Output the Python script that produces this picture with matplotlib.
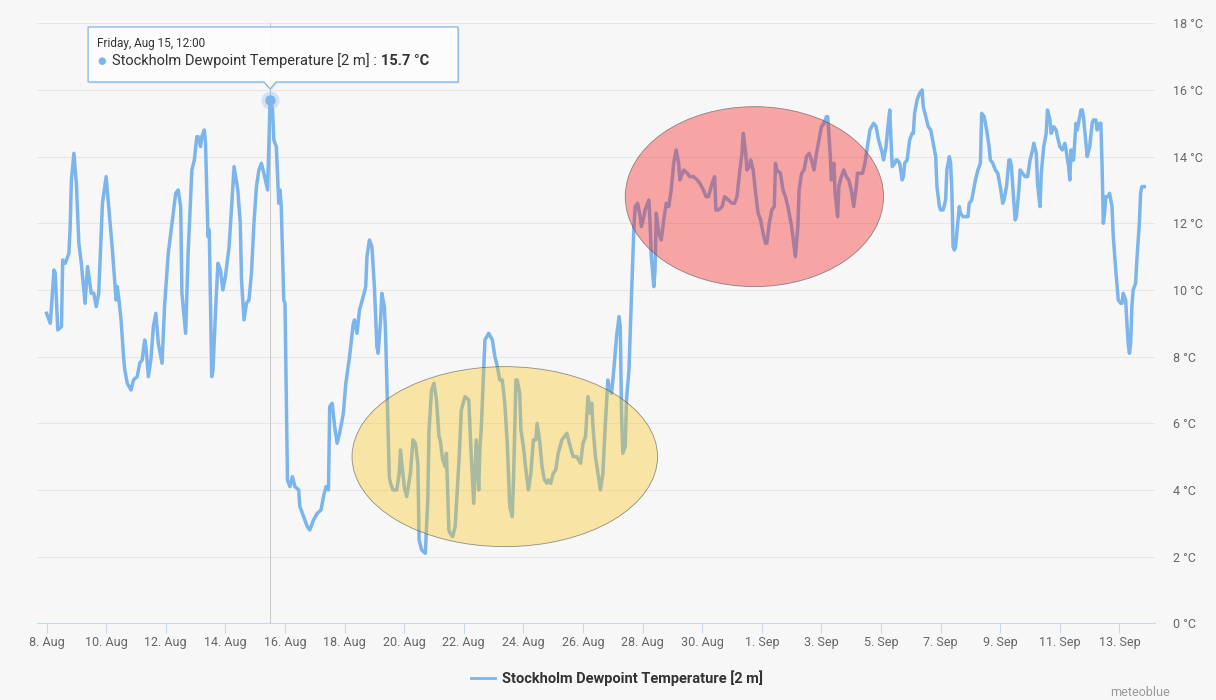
import matplotlib
matplotlib.use("Agg")
import matplotlib.pyplot as plt
import matplotlib.dates as mdates
from matplotlib.patches import Ellipse, Polygon
from matplotlib.lines import Line2D
from matplotlib.transforms import IdentityTransform
import numpy as np
import pandas as pd

# hours after 8 Aug 2025 00:00 -> dewpoint [degC]
hours_aug08 = [0, 3, 6, 7, 9, 12, 13, 15, 18, 19, 20, 22, 24, 26, 28, 31, 33, 36, 38, 40,
               42, 45, 48, 51, 53, 56, 57, 58, 60, 62, 63, 65, 68, 70, 73, 75, 77, 79, 80,
               82, 84, 86, 88, 90, 93, 95, 98, 100, 104, 106, 108, 109, 112, 114, 117, 119,
               121, 122, 124, 125, 127, 128, 130, 131, 133, 134, 136, 138, 140, 142]
dew_aug08 = [9.3, 9.0, 10.6, 10.5, 8.8, 8.9, 10.9, 10.8, 11.1, 11.9, 13.3, 14.1, 13.2, 11.4,
             10.8, 9.6, 10.7, 9.9, 9.9, 9.5, 9.9, 12.6, 13.4, 12.1, 11.2, 9.7, 10.1, 9.8, 9.1,
             8.0, 7.6, 7.2, 7.0, 7.3, 7.4, 7.8, 7.9, 8.5, 8.3, 7.4, 7.9, 8.9, 9.3, 8.4, 7.8,
             9.5, 11.1, 11.7, 12.9, 13.0, 12.5, 9.9, 8.7, 11.1, 13.6, 13.9, 14.6, 14.6, 14.3,
             14.6, 14.8, 14.4, 11.6, 11.8, 7.4, 7.6, 9.3, 10.8, 10.6, 10.0]

hours_aug14 = [144, 147, 149, 151, 154, 156, 157, 159, 161, 163, 165, 167, 169, 171, 173, 175,
               178, 179, 180, 182, 183, 185, 187, 188, 189, 191, 192, 194, 196, 198, 200, 203,
               204, 207, 210, 212, 215, 218, 221, 223, 225, 227, 228, 230, 232, 234, 236, 239,
               241, 244, 247, 248, 250, 252, 255, 257, 258, 260, 262, 264, 266, 267, 269, 270,
               272, 273, 274, 276, 277, 279, 282, 284]
dew_aug14 = [10.4, 11.3, 12.5, 13.7, 13.0, 12.0, 10.3, 9.1, 9.6, 9.7, 10.5, 12.0, 13.1, 13.6,
             13.8, 13.5, 13.0, 14.4, 15.7, 15.4, 14.5, 14.3, 12.6, 13.0, 12.5, 9.7, 9.6, 4.3,
             4.1, 4.4, 4.1, 4.0, 3.5, 3.2, 2.9, 2.8, 3.1, 3.3, 3.4, 3.8, 4.1, 4.0, 6.5, 6.6,
             5.9, 5.4, 5.7, 6.3, 7.2, 8.0, 9.0, 9.1, 8.7, 9.4, 9.8, 10.1, 11.0, 11.5, 11.3,
             10.1, 8.3, 8.1, 9.1, 9.9, 9.5, 8.7, 7.3, 4.4, 4.2, 4.0, 4.0, 4.5]

hours_aug19 = [285, 288, 290, 293, 295, 297, 299, 300, 302, 305, 307, 308, 310, 312, 314, 316,
               317, 319, 321, 322, 324, 325, 327, 329, 332, 334, 337, 340, 342, 344, 346, 348,
               349, 350, 353, 356, 359, 361, 363, 365, 367, 369, 371, 373, 375, 376, 378, 379,
               381, 382, 384, 386, 388, 390, 392, 394, 395, 397, 399, 401, 403, 404, 406, 408,
               410, 412, 415, 417, 419, 421, 424, 427, 430, 432, 434, 436, 438]
dew_aug19 = [5.2, 4.1, 3.8, 4.5, 5.5, 5.4, 4.8, 2.5, 2.2, 2.1, 3.7, 5.8, 7.0, 7.2, 6.7, 5.6,
             5.5, 4.9, 4.7, 5.1, 2.8, 2.7, 2.6, 2.9, 4.8, 6.4, 6.8, 6.7, 5.0, 3.6, 5.5, 4.0,
             5.3, 5.8, 8.5, 8.7, 8.5, 8.0, 7.7, 7.3, 7.3, 6.6, 5.4, 3.5, 3.2, 4.3, 7.3, 7.3,
             6.9, 5.8, 5.3, 4.6, 4.0, 4.5, 5.5, 5.5, 6.0, 5.5, 4.7, 4.3, 4.2, 4.3, 4.2, 4.5,
             4.6, 5.1, 5.5, 5.6, 5.7, 5.4, 5.0, 5.0, 4.8, 5.4, 5.6, 6.8, 6.3]

hours_aug26 = [439, 440, 442, 444, 446, 448, 450, 452, 453, 455, 457, 459, 461, 462, 463, 464,
               466, 467, 469, 471, 473, 474, 476, 478, 479, 481, 482, 485, 486, 487, 489, 490,
               491, 493, 495, 497, 499, 501, 503, 505, 507, 509, 510, 513, 516, 518, 521, 524,
               526, 529, 531, 533, 536, 538, 539, 541, 544, 546, 549, 552, 554, 556, 558, 560,
               561, 563, 564, 566, 567, 569, 571, 573]
dew_aug26 = [6.6, 5.9, 5.0, 4.5, 4.0, 4.5, 6.0, 7.3, 7.1, 6.9, 7.7, 8.6, 9.2, 8.9, 6.3, 5.1,
             5.3, 6.7, 7.6, 9.8, 11.9, 12.5, 12.6, 12.2, 11.9, 12.2, 12.4, 12.7, 12.0, 11.0,
             10.1, 10.6, 12.3, 11.7, 11.5, 12.1, 12.6, 12.5, 13.0, 13.8, 14.2, 13.8, 13.3,
             13.6, 13.5, 13.4, 13.4, 13.3, 13.2, 13.0, 12.8, 12.8, 13.2, 13.4, 12.4, 12.4,
             12.5, 12.8, 12.7, 12.6, 12.6, 12.8, 13.5, 14.1, 14.7, 14.1, 13.6, 13.7, 13.9,
             13.6, 12.9, 12.3]

hours_sep01 = [575, 577, 579, 580, 582, 584, 586, 587, 588, 591, 593, 595, 597, 600, 603, 605,
               606, 608, 610, 612, 614, 616, 618, 620, 622, 624, 626, 628, 629, 631, 632, 634,
               635, 637, 638, 640, 642, 644, 646, 648, 650, 652, 653, 655, 657, 659, 661, 663,
               666, 668, 670, 673, 674, 676, 677, 679, 680, 681, 683, 684, 685, 687, 689, 690,
               691, 693, 695, 697, 698, 699, 701, 703, 705, 706, 708, 710, 712, 714, 716, 717,
               719, 720, 722]
dew_sep01 = [12.1, 11.7, 11.4, 11.4, 12.0, 12.4, 12.5, 13.8, 13.6, 13.5, 13.0, 12.8, 12.5,
             11.9, 11.0, 11.9, 13.0, 13.5, 13.6, 14.0, 14.1, 13.9, 13.6, 14.1, 14.5, 14.9,
             15.0, 15.2, 15.2, 14.1, 13.3, 13.8, 12.9, 12.2, 13.1, 13.4, 13.6, 13.4, 13.3,
             13.0, 12.5, 13.1, 13.5, 13.5, 13.5, 13.8, 14.3, 14.8, 15.0, 14.9, 14.5, 14.1,
             13.9, 14.3, 14.7, 15.4, 14.5, 13.7, 13.8, 13.9, 13.9, 13.8, 13.3, 13.4, 13.8,
             13.9, 14.5, 14.7, 14.7, 15.3, 15.7, 15.9, 16.0, 15.5, 15.2, 14.9, 14.8, 14.4,
             14.0, 13.1, 12.5, 12.4, 12.4]

hours_sep07 = [724, 725, 727, 728, 729, 730, 731, 732, 733, 735, 736, 738, 740, 742, 743, 745,
               746, 748, 750, 752, 753, 755, 757, 759, 760, 762, 764, 766, 768, 770, 771, 773,
               775, 776, 777, 779, 780, 781, 783, 784, 786, 788, 790, 792, 794, 795, 797, 798,
               800, 801, 803, 805, 806, 808, 809, 811, 813, 814, 816, 818, 820, 821, 823, 824,
               825, 826, 827, 829, 830, 832, 833, 834, 835, 837, 838, 840, 842, 843, 845, 846,
               848, 849, 850, 851, 852, 853, 855, 856, 858, 859, 861, 863, 865, 866, 867, 869,
               870, 871, 872, 873, 874, 875, 877, 878, 880, 881, 882, 884]
dew_sep07 = [12.7, 13.6, 14.0, 13.8, 13.0, 11.3, 11.2, 11.3, 11.7, 12.5, 12.3, 12.2, 12.2,
             12.2, 12.6, 12.7, 12.9, 13.3, 13.6, 13.8, 15.3, 15.2, 14.8, 14.3, 13.9, 13.8,
             13.6, 13.5, 13.1, 12.6, 12.7, 13.1, 13.9, 13.9, 13.7, 12.6, 12.1, 12.2, 13.0,
             13.6, 13.5, 13.4, 13.4, 13.9, 14.2, 14.4, 14.1, 13.2, 12.5, 13.5, 14.3, 14.7,
             15.4, 15.1, 14.7, 14.9, 14.8, 14.6, 14.3, 14.2, 14.4, 14.2, 13.7, 13.3, 14.2,
             13.9, 13.9, 15.0, 14.8, 15.2, 15.4, 15.4, 15.2, 14.4, 14.0, 14.3, 15.0, 15.1,
             15.1, 14.8, 15.0, 15.0, 13.7, 12.0, 12.3, 12.8, 12.8, 12.9, 12.5, 11.6, 10.6,
             9.7, 9.6, 9.6, 9.9, 9.7, 9.0, 8.4, 8.1, 8.4, 9.5, 10.0, 10.2, 10.9, 12.0, 12.9,
             13.1, 13.1]

y_ticks = [0, 2, 4, 6, 8, 10, 12, 14, 16, 18]
series_name = "Stockholm Dewpoint Temperature [2 m]"
hover_hour = 180  # Friday, Aug 15, 12:00

start = pd.Timestamp("2025-08-08 00:00")
hours = np.array(hours_aug08 + hours_aug14 + hours_aug19 + hours_aug26 + hours_sep01 + hours_sep07)
dew = np.array(dew_aug08 + dew_aug14 + dew_aug19 + dew_aug26 + dew_sep01 + dew_sep07)
times = (start + pd.to_timedelta(hours, unit="h")).to_pydatetime()

blue = "#7cb5ec"
bg = "#f7f7f7"
plt.rcParams["font.family"] = ["Roboto", "DejaVu Sans"]

W, H = 1216, 700
fig = plt.figure(figsize=(W / 100, H / 100), dpi=100, facecolor=bg)
ax = fig.add_axes([37 / W, 1 - 623.3 / H, (1155 - 37) / W, (623.3 - 23.3) / H])
ax.set_facecolor(bg)

ax.plot(times, dew, color=blue, lw=2.5, solid_joinstyle="round", zorder=3)

# hand drawn highlight ellipses
t_yellow = mdates.date2num(start + pd.Timedelta(hours=369))
t_red = mdates.date2num(start + pd.Timedelta(hours=570))
ax.add_patch(Ellipse((t_yellow, 5.0), 246 / 24, 5.4, facecolor=(0.98, 0.77, 0.08, 0.36),
                     edgecolor=(0.3, 0.3, 0.3, 0.6), lw=0.6, zorder=4))
ax.add_patch(Ellipse((t_red, 12.8), 208 / 24, 5.4, facecolor=(0.96, 0.12, 0.12, 0.38),
                     edgecolor=(0.3, 0.3, 0.3, 0.6), lw=0.6, zorder=4))

# axes styling
ax.set_ylim(0, 18)
ax.set_xlim(start - pd.Timedelta(hours=7.7), start + pd.Timedelta(hours=892.6))
ax.set_yticks(y_ticks)
ax.set_yticklabels([f"{v} °C" for v in y_ticks])
ax.yaxis.tick_right()
ax.grid(axis="y", color="#e6e6e6", lw=0.75)
ax.set_axisbelow(True)
ax.tick_params(axis="y", length=0, pad=13, labelsize=9, labelcolor="#666666")

xt = pd.date_range(start, "2025-09-13", freq="2D").to_pydatetime()
ax.set_xticks(xt)
ax.set_xticklabels([f"{d.day}. {d.strftime('%b')}" for d in xt])
ax.tick_params(axis="x", length=7, width=0.8, color="#ccd6eb", pad=2,
               labelsize=9, labelcolor="#666666")
for side in ["top", "left", "right"]:
    ax.spines[side].set_visible(False)
ax.spines["bottom"].set_color("#ccd6eb")
ax.spines["bottom"].set_linewidth(0.8)

# hover crosshair + marker
i_hov = int(np.where(hours == hover_hour)[0][0])
t_hov, v_hov = times[i_hov], dew[i_hov]
ax.axvline(t_hov, color="#cccccc", lw=0.8, zorder=2)
ax.plot([t_hov], [v_hov], "o", ms=13, color=blue, alpha=0.3, mec="none", zorder=5)
ax.plot([t_hov], [v_hov], "o", ms=7.5, color=blue, mec="none", zorder=6)

# tooltip, positioned relative to hovered point (display pixels)
px, py = ax.transData.transform((mdates.date2num(t_hov), v_hov))
box = [(px - 182, py + 18), (px - 6, py + 18), (px, py + 11), (px + 6, py + 18),
       (px + 188, py + 18), (px + 188, py + 73), (px - 182, py + 73)]
shadow = [(x + 1.5, y - 1.5) for x, y in box]
fig.add_artist(Polygon(shadow, closed=True, transform=IdentityTransform(),
                       facecolor=(0, 0, 0, 0.08), edgecolor="none", zorder=9))
fig.add_artist(Polygon(box, closed=True, transform=IdentityTransform(),
                       facecolor=(1, 1, 1, 0.9), edgecolor=blue, lw=0.9, zorder=10))
fig.text((px - 173) / W, (py + 56) / H, "Friday, Aug 15, 12:00", fontsize=8.5,
         color="#333333", va="center", zorder=11)
fig.text((px - 168) / W, (py + 39) / H, "●", fontsize=7, color=blue, va="center",
         ha="center", zorder=11)
t1 = fig.text((px - 158) / W, (py + 39) / H, series_name + " : ", fontsize=10.5,
              color="#333333", va="center", zorder=11)
r = fig.canvas.get_renderer()
bb = t1.get_window_extent(renderer=r)
fig.text(bb.x1 / W, (py + 39) / H, f"{v_hov:.1f} °C", fontsize=10.5, fontweight="bold",
         color="#333333", va="center", zorder=11)

# legend + credit
handle = Line2D([], [], color=blue, lw=2)
leg = fig.legend(handles=[handle], labels=[series_name], loc="center",
                 bbox_to_anchor=(617 / W, 1 - 678 / H), frameon=False,
                 handlelength=1.6, handletextpad=0.5, prop={"size": 10.5, "weight": "bold"})
for txt in leg.get_texts():
    txt.set_color("#333333")
fig.text(1170 / W, 1 - 692 / H, "meteoblue", fontsize=9, color="#999999",
         ha="right", va="center")

fig.savefig("out.png", dpi=100, facecolor=bg)
